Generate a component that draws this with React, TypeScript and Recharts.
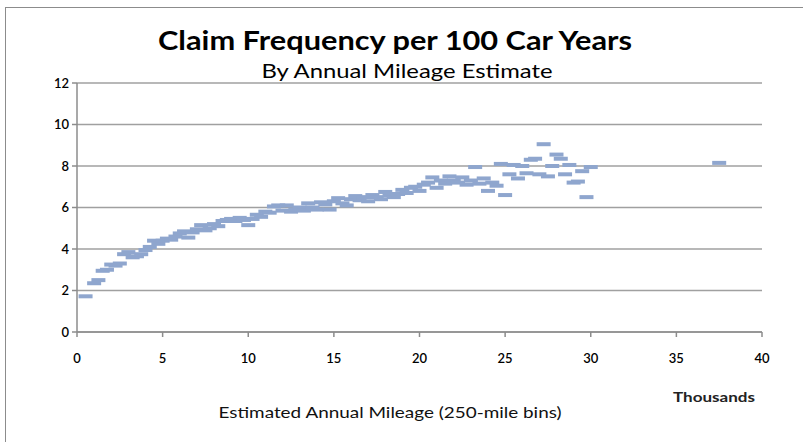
import React from "react";
import { ScatterChart, Scatter, XAxis, YAxis, CartesianGrid } from "recharts";

const mileage: number[] = [
  0.5, 1.0, 1.25, 1.5, 1.75, 2.0, 2.25, 2.5, 2.75, 3.0, 3.25, 3.5, 3.75, 4.0,
  4.25, 4.5, 4.75, 5.0, 5.25, 5.5, 5.75, 6.0, 6.25, 6.5, 6.75, 7.0, 7.25, 7.5,
  7.75, 8.0, 8.25, 8.5, 8.75, 9.0, 9.25, 9.5, 9.75, 10.0, 10.25, 10.5, 10.75,
  11.0, 11.25, 11.5, 11.75, 12.0, 12.25, 12.5, 12.75, 13.0, 13.25, 13.5, 13.75,
  14.0, 14.25, 14.5, 14.75, 15.0, 15.25, 15.5, 15.75, 16.0, 16.25, 16.5, 16.75,
  17.0, 17.25, 17.5, 17.75, 18.0, 18.25, 18.5, 18.75, 19.0, 19.25, 19.5, 19.75,
  20.0, 20.25, 20.5, 20.75, 21.0, 21.25, 21.5, 21.75, 22.0, 22.25, 22.5, 22.75,
  23.0, 23.25, 23.5, 23.75, 24.0, 24.25, 24.5, 24.75, 25.0, 25.25, 25.5, 25.75,
  26.0, 26.25, 26.5, 26.75, 27.0, 27.25, 27.5, 27.75, 28.0, 28.25, 28.5, 28.75,
  29.0, 29.25, 29.5, 29.75, 30.0, 37.5,
];

const frequency: number[] = [
  1.72, 2.35, 2.5, 2.95, 3.0, 3.25, 3.2, 3.3, 3.75, 3.85, 3.6, 3.65, 3.75, 3.95,
  4.1, 4.4, 4.25, 4.4, 4.5, 4.45, 4.6, 4.75, 4.85, 4.55, 4.8, 4.95, 5.15, 4.9,
  5.0, 5.2, 5.1, 5.35, 5.4, 5.45, 5.35, 5.5, 5.4, 5.15, 5.45, 5.65, 5.55,
  5.8, 5.75, 6.05, 6.1, 5.85, 6.1, 5.8, 5.9, 6.0, 5.85, 6.2, 6.0,
  5.9, 6.25, 6.15, 5.9, 6.3, 6.45, 6.2, 6.1, 6.4, 6.55, 6.35, 6.5,
  6.3, 6.6, 6.5, 6.4, 6.75, 6.6, 6.5, 6.65, 6.85, 6.7, 6.95, 7.0,
  6.8, 7.1, 7.2, 7.45, 6.95, 7.3, 7.15, 7.5, 7.3, 7.2, 7.45, 7.1,
  7.3, 7.95, 7.15, 7.4, 6.8, 7.2, 7.05, 8.1, 6.6, 7.6, 8.05, 7.4,
  8.0, 7.65, 8.3, 8.35, 7.6, 9.05, 7.5, 8.0, 8.55, 8.35, 7.6, 8.05,
  7.2, 7.25, 7.75, 6.5, 7.95, 8.15,
];

const xTicks: number[] = [0, 5, 10, 15, 20, 25, 30, 35, 40];
const yTicks: number[] = [0, 2, 4, 6, 8, 10, 12];

const data = mileage.map((m, i) => ({ x: m, y: frequency[i] }));

const FONT = "Lato, 'Open Sans', sans-serif";
const MARK = "#8FA6CE";

const Dash = (props: any) => {
  const { cx, cy } = props;
  if (cx == null || cy == null) return null;
  return <rect x={cx - 7} y={cy - 2} width={14} height={4} fill={MARK} />;
};

export default function App() {
  return (
    <div
      style={{
        position: "absolute",
        left: 0,
        top: 0,
        width: 803,
        height: 442,
        background: "#fff",
        overflow: "hidden",
      }}
    >
      <div
        style={{
          position: "absolute",
          left: 5,
          top: 7,
          width: 900,
          height: 500,
          borderTop: "1px solid #8c8c8c",
          borderLeft: "1px solid #8c8c8c",
        }}
      />
      <ScatterChart
        width={803}
        height={442}
        margin={{ top: 83, right: 41, left: 0, bottom: 0 }}
        style={{ position: "absolute", left: 0, top: 0 }}
      >
        <CartesianGrid vertical={false} stroke="#a0a0a0" strokeWidth={1.5} />
        <XAxis
          type="number"
          dataKey="x"
          domain={[0, 40]}
          ticks={xTicks}
          interval={0}
          height={110}
          tickSize={5}
          tickMargin={17}
          stroke="#8c8c8c"
          strokeWidth={1.5}
          tick={{ fill: "#000", fontSize: 13, fontFamily: FONT, fontWeight: 600 }}
        />
        <YAxis
          type="number"
          dataKey="y"
          domain={[0, 12]}
          ticks={yTicks}
          interval={0}
          width={77}
          tickSize={5}
          tickMargin={3}
          stroke="#8c8c8c"
          strokeWidth={1.5}
          tick={{ fill: "#000", fontSize: 13, fontFamily: FONT, fontWeight: 600 }}
        />
        <Scatter data={data} shape={<Dash />} isAnimationActive={false} />
      </ScatterChart>
      <svg
        width={803}
        height={442}
        style={{ position: "absolute", left: 0, top: 0, pointerEvents: "none" }}
      >
        <text
          x={395}
          y={50}
          textAnchor="middle"
          fontFamily={FONT}
          fontWeight="bold"
          fontSize={27}
          fill="#000"
          textLength={474}
          lengthAdjust="spacingAndGlyphs"
        >
          Claim Frequency per 100 Car Years
        </text>
        <text
          x={407}
          y={78}
          textAnchor="middle"
          fontFamily={FONT}
          fontSize={19}
          fill="#000"
          textLength={291}
          lengthAdjust="spacingAndGlyphs"
        >
          By Annual Mileage Estimate
        </text>
        <text
          x={390}
          y={418}
          textAnchor="middle"
          fontFamily={FONT}
          fontSize={15}
          fill="#111"
          textLength={343}
          lengthAdjust="spacingAndGlyphs"
        >
          Estimated Annual Mileage (250-mile bins)
        </text>
        <text
          x={714}
          y={402}
          textAnchor="middle"
          fontFamily={FONT}
          fontWeight="bold"
          fontSize={13}
          fill="#222"
          textLength={82}
          lengthAdjust="spacingAndGlyphs"
        >
          Thousands
        </text>
      </svg>
    </div>
  );
}
